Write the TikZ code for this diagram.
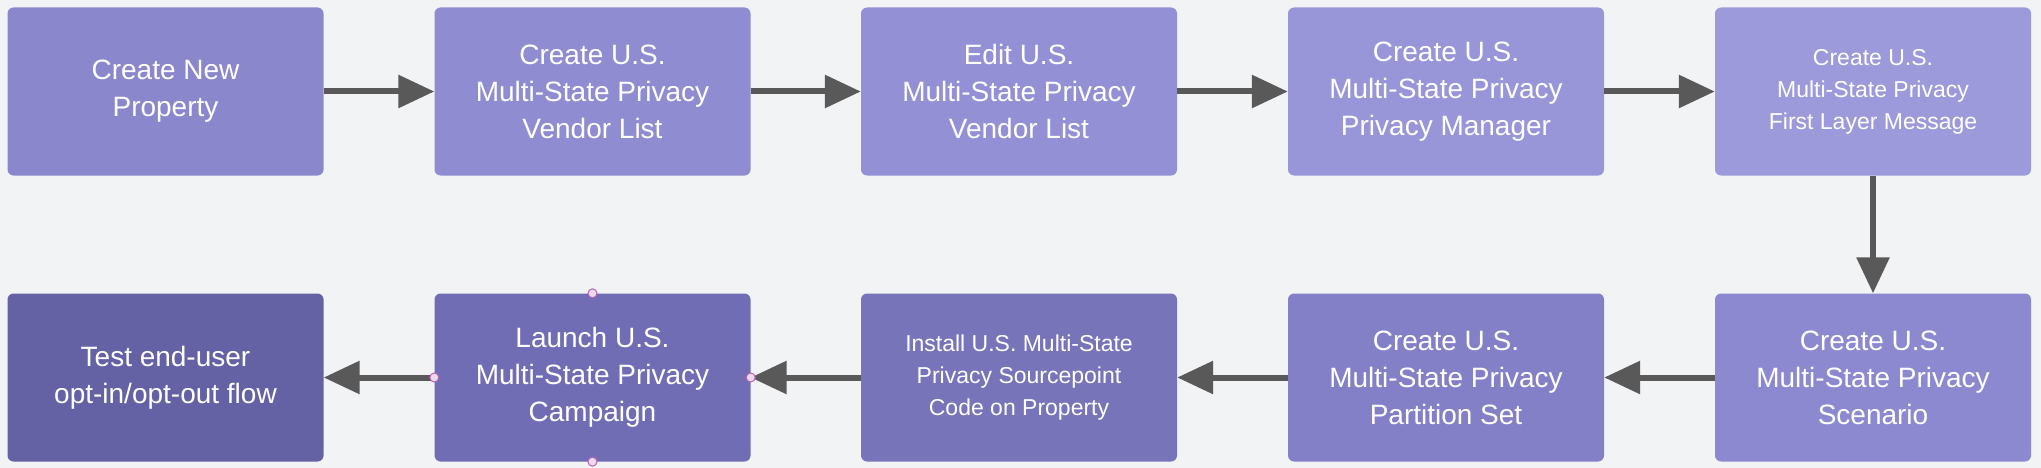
\documentclass[tikz,border=0pt]{standalone}
\usepackage{fontspec}
\setmainfont{Liberation Sans}
\usetikzlibrary{arrows.meta}
\begin{document}
\begin{tikzpicture}[x=1pt,y=-1pt,
  box/.style={rounded corners=6pt,minimum width=316pt,minimum height=168pt,text=white,align=center,inner sep=0pt,font=\fontsize{28}{37}\selectfont},
  sm/.style={font=\fontsize{23}{32}\selectfont},
  arr/.style={draw=black!65,line width=6pt,-{Triangle[length=36pt,width=32pt]}},
  hd/.style={circle,draw=violet!60,fill=violet!15,line width=1pt,minimum size=9pt,inner sep=0pt}]
\fill[fill={rgb,255:red,242;green,243;blue,245}] (0,0) rectangle (2041,468);
\definecolor{c1}{HTML}{8B87CC}\definecolor{c2}{HTML}{8F8CD1}\definecolor{c3}{HTML}{9390D5}
\definecolor{c4}{HTML}{9895D8}\definecolor{c5}{HTML}{9C9ADB}
\definecolor{d5}{HTML}{8C89D0}\definecolor{d4}{HTML}{8480C7}\definecolor{d3}{HTML}{7874BA}
\definecolor{d2}{HTML}{716DB5}\definecolor{d1}{HTML}{6461A5}
\node[box,fill=c1] (a) at (165.5,91.5) {Create New\\Property};
\node[box,fill=c2] (b) at (592.5,91.5) {Create U.S.\\Multi-State Privacy\\Vendor List};
\node[box,fill=c3] (c) at (1019,91.5) {Edit U.S.\\Multi-State Privacy\\Vendor List};
\node[box,fill=c4] (d) at (1446,91.5) {Create U.S.\\Multi-State Privacy\\Privacy Manager};
\node[box,fill=c5,sm] (e) at (1873,91.5) {Create U.S.\\Multi-State Privacy\\First Layer Message};
\node[box,fill=d5] (f) at (1873,377.5) {Create U.S.\\Multi-State Privacy\\Scenario};
\node[box,fill=d4] (g) at (1446,377.5) {Create U.S.\\Multi-State Privacy\\Partition Set};
\node[box,fill=d3,sm] (h) at (1019,377.5) {Install U.S. Multi-State\\Privacy Sourcepoint\\Code on Property};
\node[box,fill=d2] (i) at (592.5,377.5) {Launch U.S.\\Multi-State Privacy\\Campaign};
\node[box,fill=d1] (j) at (165.5,377.5) {Test end-user\\opt-in/opt-out flow};
\draw[arr] (a) -- (b); \draw[arr] (b) -- (c); \draw[arr] (c) -- (d); \draw[arr] (d) -- (e);
\draw[arr] (e) -- (f); \draw[arr] (f) -- (g); \draw[arr] (g) -- (h); \draw[arr] (h) -- (i); \draw[arr] (i) -- (j);
\node[hd] (h1) at (i.north) {}; \node[hd] (h2) at (i.south) {};
\node[hd] (h3) at (i.west) {}; \node[hd] (h4) at (i.east) {};
\end{tikzpicture}
\end{document}
